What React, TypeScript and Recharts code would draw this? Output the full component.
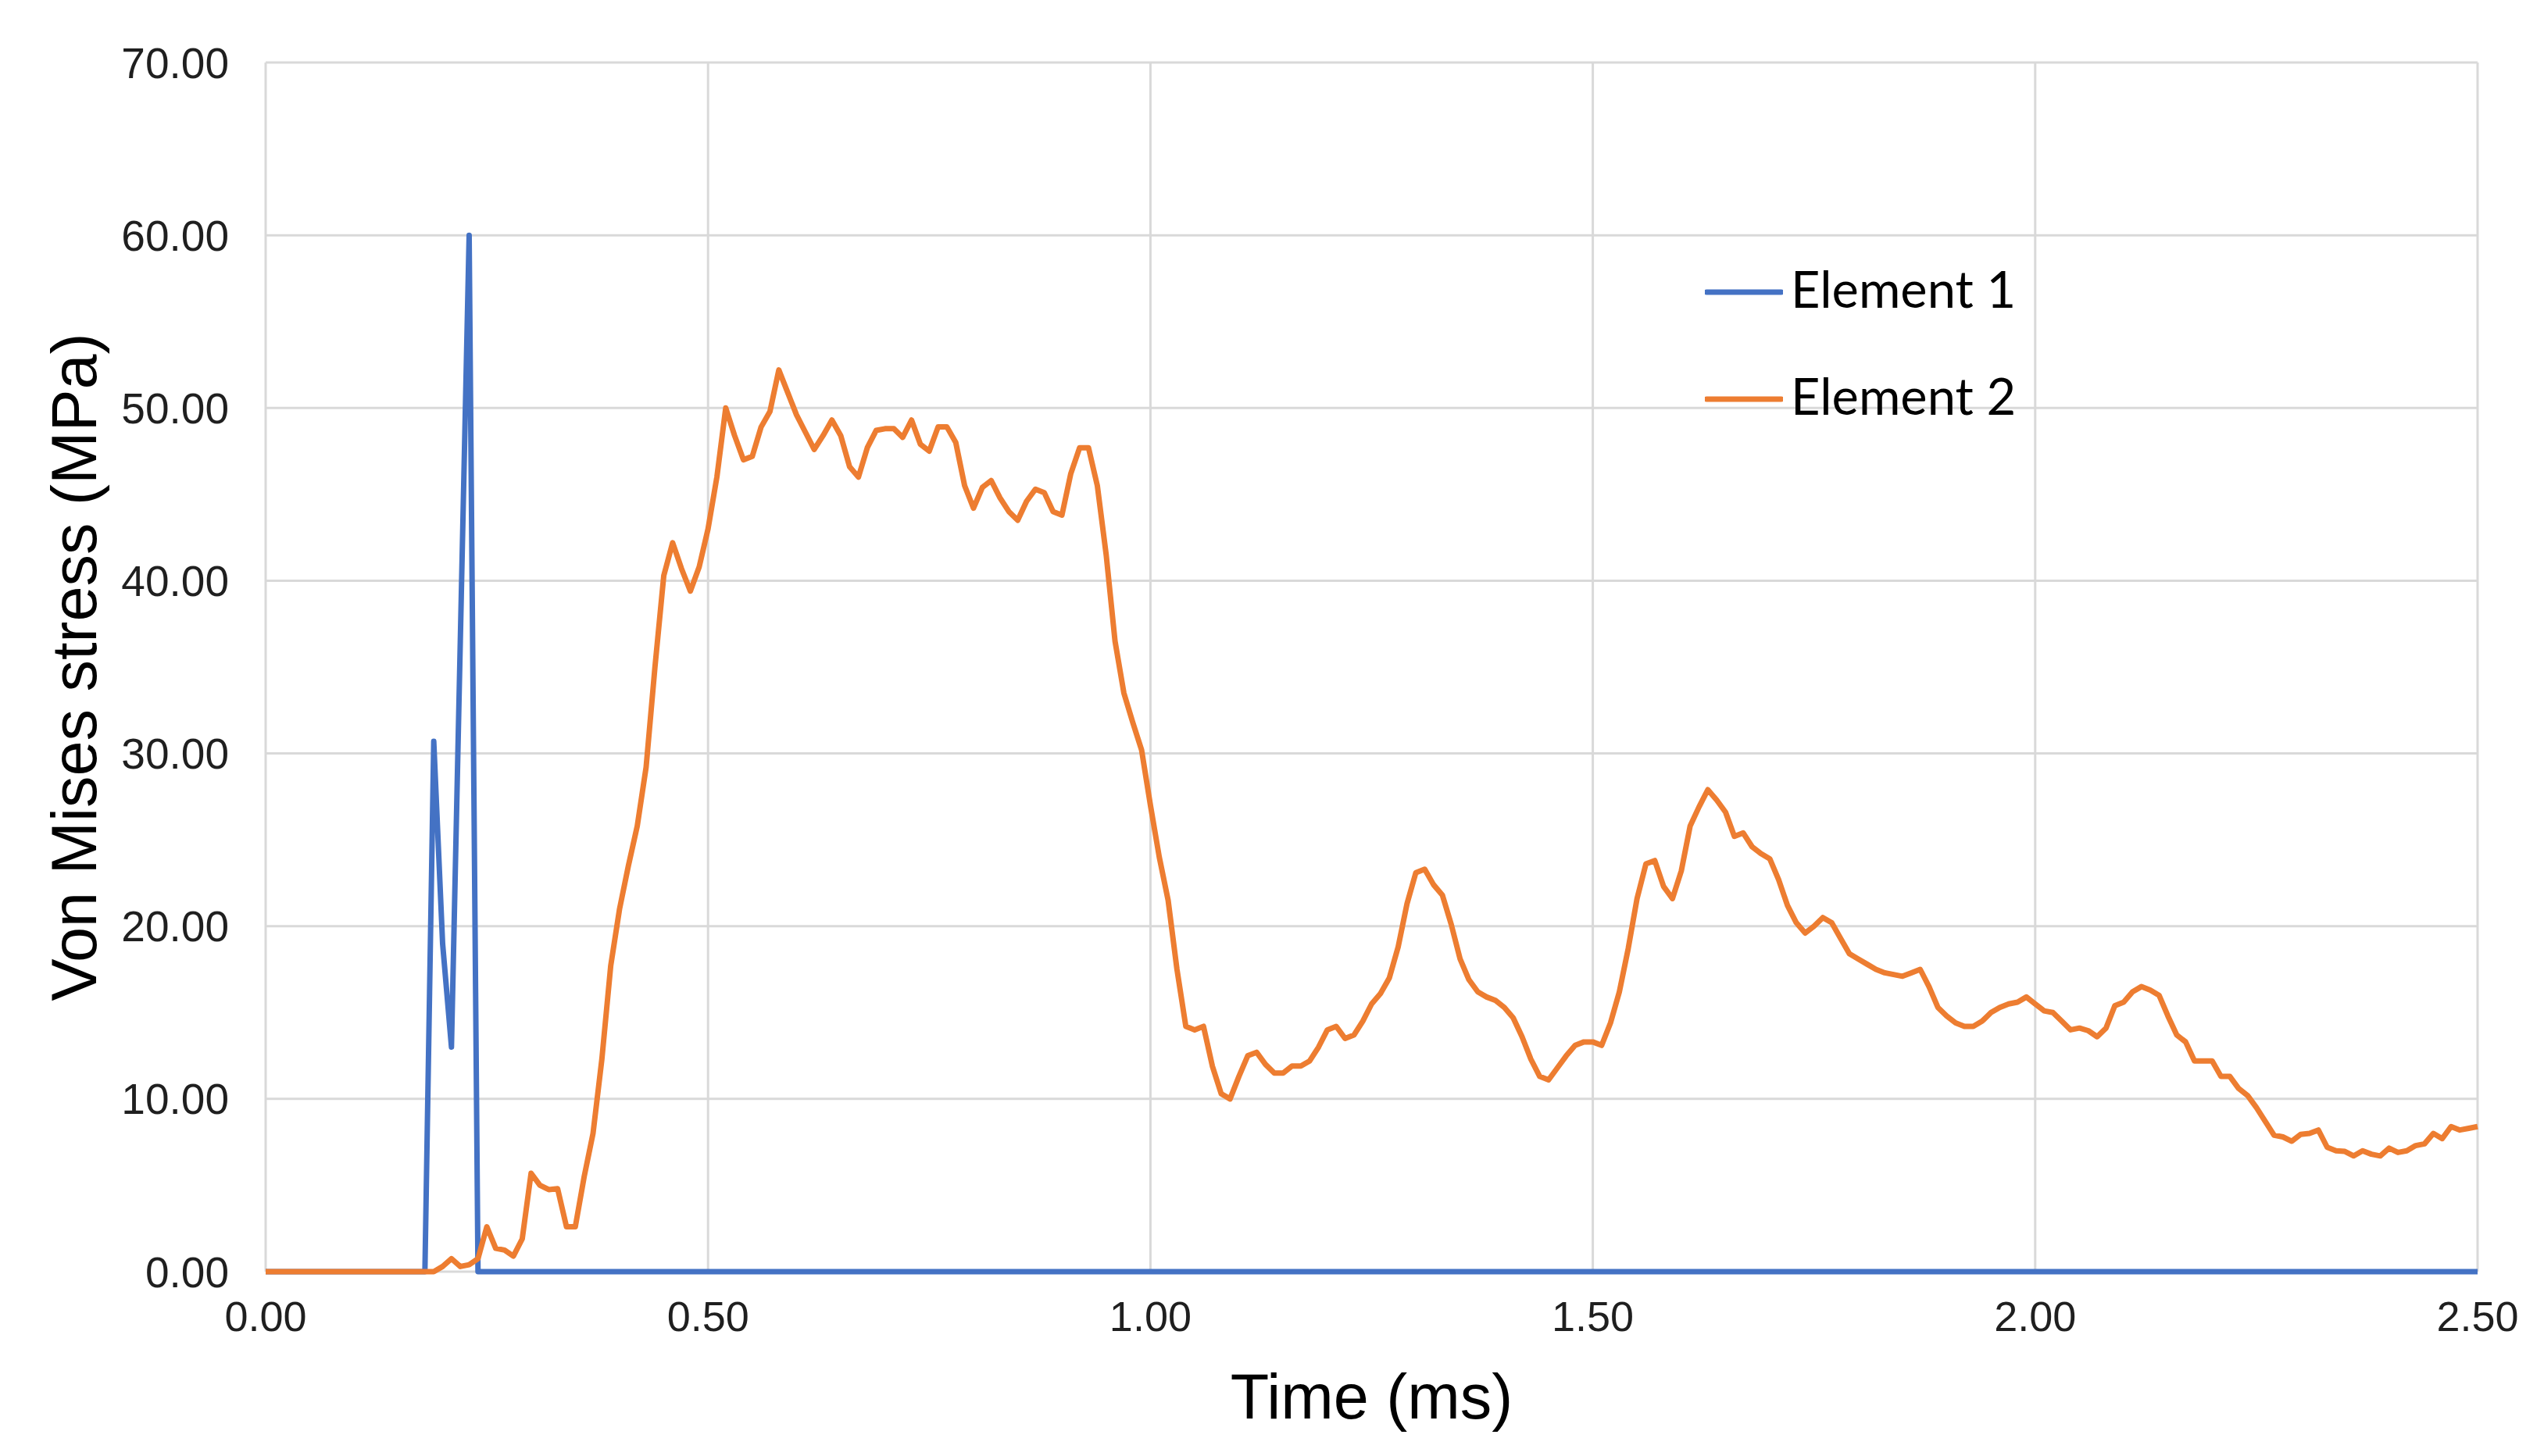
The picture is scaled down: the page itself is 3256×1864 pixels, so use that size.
import React from 'react';
import { LineChart, Line, XAxis, YAxis, CartesianGrid, Legend } from 'recharts';

const xTicks = [0, 0.5, 1.0, 1.5, 2.0, 2.5];
const yTicks = [0, 10, 20, 30, 40, 50, 60, 70];

const e1Times = [0, 0.18, 0.19, 0.2, 0.21, 0.22, 0.23, 0.24, 2.5];
const e1Values = [0, 0, 30.7, 19.0, 13.0, 36.5, 60.0, 0, 0];

const e2Times = [
  0, 0.19, 0.2, 0.21, 0.22, 0.23, 0.24, 0.25, 0.26, 0.27, 0.28, 0.29,
  0.3, 0.31, 0.32, 0.33, 0.34, 0.35, 0.36, 0.37, 0.38, 0.39,
  0.4, 0.41, 0.42, 0.43, 0.44, 0.45, 0.46, 0.47, 0.48, 0.49,
  0.5, 0.51, 0.52, 0.53, 0.54, 0.55, 0.56, 0.57, 0.58, 0.59,
  0.6, 0.61, 0.62, 0.63, 0.64, 0.65, 0.66, 0.67, 0.68, 0.69,
  0.7, 0.71, 0.72, 0.73, 0.74, 0.75, 0.76, 0.77, 0.78, 0.79,
  0.8, 0.81, 0.82, 0.83, 0.84, 0.85, 0.86, 0.87, 0.88, 0.89,
  0.9, 0.91, 0.92, 0.93, 0.94, 0.95, 0.96, 0.97, 0.98, 0.99,
  1.0, 1.01, 1.02, 1.03, 1.04, 1.05, 1.06, 1.07, 1.08, 1.09,
  1.1, 1.11, 1.12, 1.13, 1.14, 1.15, 1.16, 1.17, 1.18, 1.19,
  1.2, 1.21, 1.22, 1.23, 1.24, 1.25, 1.26, 1.27, 1.28, 1.29,
  1.3, 1.31, 1.32, 1.33, 1.34, 1.35, 1.36, 1.37, 1.38, 1.39,
  1.4, 1.41, 1.42, 1.43, 1.44, 1.45, 1.46, 1.47, 1.48, 1.49,
  1.5, 1.51, 1.52, 1.53, 1.54, 1.55, 1.56, 1.57, 1.58, 1.59,
  1.6, 1.61, 1.62, 1.63, 1.64, 1.65, 1.66, 1.67, 1.68, 1.69,
  1.7, 1.71, 1.72, 1.73, 1.74, 1.75, 1.76, 1.77, 1.78, 1.79,
  1.8, 1.81, 1.82, 1.83, 1.84, 1.85, 1.86, 1.87, 1.88, 1.89,
  1.9, 1.91, 1.92, 1.93, 1.94, 1.95, 1.96, 1.97, 1.98, 1.99,
  2.0, 2.01, 2.02, 2.03, 2.04, 2.05, 2.06, 2.07, 2.08, 2.09,
  2.1, 2.11, 2.12, 2.13, 2.14, 2.15, 2.16, 2.17, 2.18, 2.19,
  2.2, 2.21, 2.22, 2.23, 2.24, 2.25, 2.26, 2.27, 2.28, 2.29,
  2.3, 2.31, 2.32, 2.33, 2.34, 2.35, 2.36, 2.37, 2.38, 2.39,
  2.4, 2.41, 2.42, 2.43, 2.44, 2.45, 2.46, 2.47, 2.48, 2.49,
  2.5,
];
const e2Values = [
  0, 0, 0.3, 0.75, 0.3, 0.4, 0.75, 2.6, 1.35, 1.25, 0.9, 1.9,
  5.7, 5.0, 4.75, 4.8, 2.6, 2.6, 5.5, 8.0, 12.3, 17.7,
  21.0, 23.5, 25.8, 29.2, 35.0, 40.3, 42.2, 40.7, 39.4, 40.8,
  43.0, 46.0, 50.0, 48.4, 47.0, 47.2, 48.9, 49.8, 52.2, 50.9,
  49.6, 48.6, 47.6, 48.4, 49.3, 48.4, 46.6, 46.0, 47.7, 48.7,
  48.8, 48.8, 48.3, 49.3, 47.9, 47.5, 48.9, 48.9, 48.0, 45.5,
  44.2, 45.4, 45.8, 44.8, 44.0, 43.5, 44.6, 45.3, 45.1, 44.0,
  43.8, 46.2, 47.7, 47.7, 45.5, 41.5, 36.5, 33.5, 31.8, 30.2,
  27.0, 24.0, 21.5, 17.5, 14.2, 14.0, 14.2, 11.9, 10.3, 10.0,
  11.3, 12.5, 12.7, 12.0, 11.5, 11.5, 11.9, 11.9, 12.2, 13.0,
  14.0, 14.2, 13.5, 13.7, 14.5, 15.5, 16.1, 17.0, 18.8, 21.3,
  23.1, 23.3, 22.4, 21.8, 20.1, 18.1, 16.9, 16.2, 15.9, 15.7,
  15.3, 14.7, 13.6, 12.3, 11.3, 11.1, 11.8, 12.5, 13.1, 13.3,
  13.3, 13.1, 14.4, 16.2, 18.7, 21.6, 23.6, 23.8, 22.3, 21.6,
  23.2, 25.8, 26.9, 27.9, 27.3, 26.6, 25.2, 25.4, 24.6, 24.2,
  23.9, 22.7, 21.2, 20.2, 19.6, 20.0, 20.5, 20.2, 19.3, 18.4,
  18.1, 17.8, 17.5, 17.3, 17.2, 17.1, 17.3, 17.5, 16.5, 15.3,
  14.8, 14.4, 14.2, 14.2, 14.5, 15.0, 15.3, 15.5, 15.6, 15.9,
  15.5, 15.1, 15.0, 14.5, 14.0, 14.1, 13.95, 13.6, 14.1, 15.4,
  15.6, 16.2, 16.5, 16.3, 16.0, 14.8, 13.7, 13.3, 12.2, 12.2,
  12.2, 11.3, 11.3, 10.6, 10.2, 9.5, 8.7, 7.9, 7.8, 7.55,
  7.95, 8.0, 8.2, 7.2, 7.0, 6.96, 6.7, 7.0, 6.8, 6.7,
  7.15, 6.9, 7.0, 7.3, 7.4, 8.0, 7.7, 8.4, 8.2, 8.3,
  8.4,
];

const e1Data = e1Times.map((t, i) => ({ t, v: e1Values[i] }));
const e2Data = e2Times.map((t, i) => ({ t, v: e2Values[i] }));

const BLUE = '#4472C4';
const ORANGE = '#ED7D31';
const TICK_FONT = '"Liberation Sans", Arial, sans-serif';

const renderLegend = (props: any) => {
  const payload = props.payload || [];
  return (
    <div style={{ display: 'flex', flexDirection: 'column' }}>
      {payload.map((entry: any) => (
        <div
          key={entry.value}
          style={{ display: 'flex', alignItems: 'center', height: 137 }}
        >
          <svg width={100} height={10} style={{ display: 'block' }}>
            <line x1={2} y1={5} x2={98} y2={5} stroke={entry.color} strokeWidth={7} strokeLinecap="round" />
          </svg>
          <span
            style={{
              fontFamily: 'Lato, "Open Sans", sans-serif',
              fontSize: 65,
              color: '#000',
              marginLeft: 10,
              lineHeight: 1,
              position: 'relative',
              top: -4,
            }}
          >
            {entry.value}
          </span>
        </div>
      ))}
    </div>
  );
};

const YTitle = (props: any) => {
  const vb = props.viewBox || { x: 0, y: 0, width: 0, height: 0 };
  const cx = vb.x + 95;
  const cy = vb.y + vb.height / 2;
  return (
    <text
      x={cx}
      y={cy}
      transform={`rotate(-90, ${cx}, ${cy})`}
      textAnchor="middle"
      dominantBaseline="central"
      fontFamily={TICK_FONT}
      fontSize={81}
      fill="#000"
    >
      Von Mises stress (MPa)
    </text>
  );
};

export default function App() {
  return (
    <div
      style={{
        position: 'absolute',
        left: 0,
        top: 0,
        width: 3256,
        height: 1864,
        background: '#ffffff',
      }}
    >
      <LineChart
        width={3256}
        height={1864}
        margin={{ top: 80, right: 85, left: 0, bottom: 36 }}
      >
        <CartesianGrid stroke="#d9d9d9" strokeWidth={3} />
        <XAxis
          type="number"
          dataKey="t"
          domain={[0, 2.5]}
          ticks={xTicks}
          tickFormatter={(v: number) => v.toFixed(2)}
          axisLine={false}
          tickLine={false}
          tickSize={0}
          tickMargin={38}
          height={200}
          tick={{ fontFamily: TICK_FONT, fontSize: 54, fill: '#1f1f1f' }}
          label={{
            value: 'Time (ms)',
            position: 'insideBottom',
            offset: 12,
            style: { fontFamily: TICK_FONT, fontSize: 81, fill: '#000' },
          }}
        />
        <YAxis
          type="number"
          domain={[0, 70]}
          ticks={yTicks}
          tickFormatter={(v: number) => v.toFixed(2)}
          axisLine={false}
          tickLine={false}
          tickSize={0}
          tickMargin={47}
          width={340}
          tick={{ fontFamily: TICK_FONT, fontSize: 55, fill: '#1f1f1f' }}
          label={<YTitle />}
        />
        <Legend
          layout="vertical"
          align="center"
          verticalAlign="middle"
          content={renderLegend}
          wrapperStyle={{ left: 2182, top: 305, width: 500, height: 274 }}
        />
        <Line
          data={e1Data}
          dataKey="v"
          name="Element 1"
          type="linear"
          stroke={BLUE}
          strokeWidth={7}
          dot={false}
          activeDot={false}
          isAnimationActive={false}
          strokeLinejoin="round"
        />
        <Line
          data={e2Data}
          dataKey="v"
          name="Element 2"
          type="linear"
          stroke={ORANGE}
          strokeWidth={7}
          dot={false}
          activeDot={false}
          isAnimationActive={false}
          strokeLinejoin="round"
        />
      </LineChart>
    </div>
  );
}
